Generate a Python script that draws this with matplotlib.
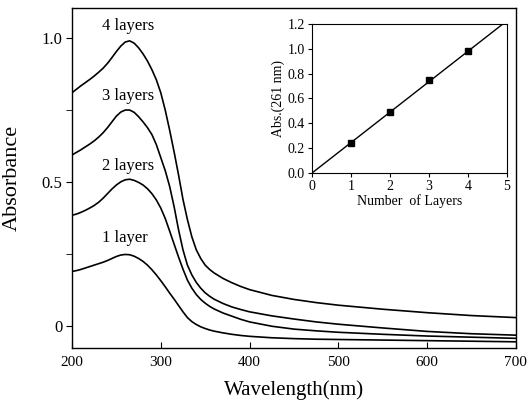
import numpy as np
import matplotlib.pyplot as plt

plt.rcParams['font.family'] = ['Liberation Serif', 'DejaVu Serif']

# main spectra (5 nm steps up to 360 nm, then coarser)
wavelength = list(range(200, 361, 5)) + [370, 380, 390, 400, 425, 450, 475, 500, 550, 600, 650, 700]
abs_4 = [0.81, 0.822, 0.834, 0.845, 0.856, 0.868, 0.881, 0.895, 0.912, 0.932,
         0.953, 0.972, 0.986, 0.99, 0.982, 0.966, 0.945, 0.92, 0.89, 0.855,
         0.81, 0.75, 0.68, 0.605, 0.525, 0.44, 0.37, 0.31, 0.265, 0.235,
         0.212, 0.197, 0.185,
         0.166, 0.151, 0.138, 0.127, 0.107, 0.093, 0.082, 0.073, 0.059, 0.047, 0.037, 0.03]
abs_3 = [0.594, 0.603, 0.612, 0.622, 0.632, 0.643, 0.656, 0.671, 0.689, 0.709,
         0.729, 0.743, 0.75, 0.75, 0.742, 0.727, 0.709, 0.689, 0.665, 0.63,
         0.585, 0.54, 0.485, 0.415, 0.335, 0.265, 0.212, 0.178, 0.152, 0.132,
         0.116, 0.104, 0.094,
         0.079, 0.067, 0.058, 0.05, 0.036, 0.025, 0.015, 0.007, -0.006, -0.018, -0.026, -0.031]
abs_2 = [0.385, 0.389, 0.395, 0.402, 0.41, 0.419, 0.43, 0.444, 0.46, 0.476,
         0.49, 0.501, 0.508, 0.51, 0.506, 0.499, 0.49, 0.477, 0.46, 0.438,
         0.41, 0.374, 0.33, 0.285, 0.24, 0.198, 0.16, 0.132, 0.11, 0.093,
         0.08, 0.069, 0.06,
         0.046, 0.035, 0.024, 0.015, 0.0, -0.01, -0.016, -0.021, -0.028, -0.034, -0.038, -0.042]
abs_1 = [0.19, 0.193, 0.197, 0.202, 0.207, 0.212, 0.217, 0.222, 0.228, 0.235,
         0.242, 0.247, 0.249, 0.248, 0.243, 0.235, 0.225, 0.212, 0.196, 0.178,
         0.158, 0.137, 0.115, 0.094, 0.072, 0.05, 0.03, 0.016, 0.006, -0.002,
         -0.008, -0.013, -0.017,
         -0.023, -0.028, -0.032, -0.035, -0.04, -0.043, -0.045, -0.046, -0.048, -0.05, -0.052, -0.054]
curve_labels = ['4 layers', '3 layers', '2 layers', '1 layer']
label_pos = [(263, 1.04), (263, 0.80), (263, 0.555), (260, 0.305)]

# inset: absorbance at 261 nm vs layers
layers = [1, 2, 3, 4]
abs_261 = [0.24, 0.49, 0.75, 0.98]
fit_x = [0, 5]
fit_y = [0, 1.225]

fig = plt.figure(figsize=(5.27, 4.12), dpi=100)
ax = fig.add_axes([0.1366, 0.155, 0.8424, 0.8256])

for y in (abs_4, abs_3, abs_2, abs_1):
    ax.plot(wavelength, y, color='black', lw=1.2, solid_joinstyle='round')
for txt, (x, y) in zip(curve_labels, label_pos):
    ax.text(x, y, txt, fontsize=12, ha='center', va='center')

ax.set_xlim(200, 700)
ax.set_ylim(-0.076, 1.104)
ax.set_xticks([200, 300, 400, 500, 600, 700])
ax.set_yticks([0, 0.5, 1.0])
ax.set_yticklabels(['0', '0.5', '1.0'])
ax.set_yticks([0.25, 0.75], minor=True)
ax.tick_params(axis='x', direction='in', length=4, labelsize=11, pad=6)
ax.tick_params(axis='y', direction='out', length=4, labelsize=12, pad=3)
ax.tick_params(axis='y', which='minor', direction='out', length=4)
ax.set_xlabel('Wavelength(nm)', fontsize=15, labelpad=8)
ax.set_ylabel('Absorbance', fontsize=16, labelpad=14)
for s in ax.spines.values():
    s.set_linewidth(1.0)

ins = fig.add_axes([0.592, 0.580, 0.370, 0.362])
ins.plot(fit_x, fit_y, color='black', lw=1.0)
ins.plot(layers, abs_261, 's', color='black', markersize=5)
ins.set_xlim(0, 5)
ins.set_ylim(0, 1.2)
ins.set_xticks(range(6))
ins.set_yticks(np.arange(0, 1.21, 0.2))
ins.set_yticklabels(['0.0', '0.2', '0.4', '0.6', '0.8', '1.0', '1.2'])
ins.tick_params(direction='out', length=3, labelsize=10, pad=2)
ins.set_xlabel('Number  of Layers', fontsize=10, labelpad=1)
ins.set_ylabel('Abs.(261 nm)', fontsize=10, labelpad=2)

fig.savefig('out.png', dpi=100)
